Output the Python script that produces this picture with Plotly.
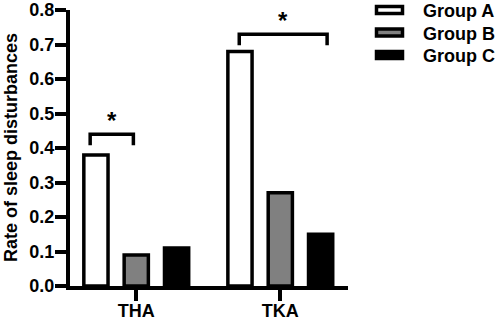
import plotly.graph_objects as go

categories = ["THA", "TKA"]
groups = ["Group A", "Group B", "Group C"]
group_a = [0.38, 0.68]
group_b = [0.09, 0.27]
group_c = [0.11, 0.15]
y_ticks = [0.0, 0.1, 0.2, 0.3, 0.4, 0.5, 0.6, 0.7, 0.8]
y_tick_labels = ["0.0", "0.1", "0.2", "0.3", "0.4", "0.5", "0.6", "0.7", "0.8"]
y_title = "Rate of sleep disturbances"
# significance brackets: (category index, x start offset, x end offset, height)
sig_brackets = [(0, -0.32, -0.02, 0.44), (1, -0.285, 0.325, 0.73)]

FONT = "Liberation Sans, Arial, sans-serif"
fills = ["white", "#808080", "black"]
values = [group_a, group_b, group_c]

fig = go.Figure()
for name, vals, fc in zip(groups, values, fills):
    fig.add_trace(go.Bar(
        x=categories, y=vals, name=name,
        marker=dict(color=fc, line=dict(color="black", width=3.5)),
        showlegend=False, hoverinfo="skip",
    ))

shapes = []
annotations = []
for ci, x0, x1, h in sig_brackets:
    leg = 0.032
    shapes.append(dict(
        type="path", xref="x", yref="y",
        path=f"M {ci + x0},{h - leg} L {ci + x0},{h} L {ci + x1},{h} L {ci + x1},{h - leg}",
        line=dict(color="black", width=3.5),
    ))
    annotations.append(dict(
        x=ci + (x0 + x1) / 2, y=h - 0.005, xref="x", yref="y",
        text="*", showarrow=False, yanchor="bottom",
        font=dict(family=FONT, size=24, color="black", weight="bold"),
    ))

# custom legend (paper coords computed from plot area 70..348 px, 10..286 px)
L, R, T, B = 70, 348, 10, 286
W, H = R - L, B - T
def px(x):
    return (x - L) / W
def py(y):
    return (B - y) / H

for i, (name, fc) in enumerate(zip(groups, fills)):
    cy = 10 + i * 22.5
    shapes.append(dict(
        type="rect", xref="paper", yref="paper",
        x0=px(376.5), x1=px(402.5), y0=py(cy + 3.5), y1=py(cy - 3.5),
        fillcolor=fc, line=dict(color="black", width=3.5),
    ))
    annotations.append(dict(
        x=px(421), y=py(cy + 1), xref="paper", yref="paper",
        text=name, showarrow=False, xanchor="left", yanchor="middle",
        font=dict(family=FONT, size=18, color="black", weight="bold"),
    ))

annotations.append(dict(
    x=px(11), y=0.5, xref="paper", yref="paper",
    text=y_title, textangle=-90, showarrow=False,
    xanchor="center", yanchor="middle",
    font=dict(family=FONT, size=18, color="black", weight="bold"),
))

fig.update_layout(
    width=498, height=321,
    margin=dict(l=L, r=498 - R, t=T, b=321 - B, autoexpand=False),
    paper_bgcolor="white", plot_bgcolor="white",
    barmode="group", bargap=0.16, bargroupgap=0.4,
    shapes=shapes, annotations=annotations,
    font=dict(family=FONT, color="black"),
    hovermode=False,
)
fig.update_xaxes(
    type="category", range=[-0.46, 1.47], automargin=False,
    showline=True, linecolor="black", linewidth=4,
    ticks="outside", ticklen=11, tickwidth=4, tickcolor="black",
    ticklabelstandoff=-6,
    tickfont=dict(family=FONT, size=18, color="black", weight="bold"),
    showgrid=False, zeroline=False,
)
fig.update_yaxes(
    range=[0, 0.8], tickvals=y_ticks, ticktext=y_tick_labels, automargin=False,
    showline=True, linecolor="black", linewidth=4,
    ticks="outside", ticklen=11, tickwidth=4, tickcolor="black",
    ticklabelstandoff=-3,
    tickfont=dict(family=FONT, size=18, color="black", weight="bold"),
    showgrid=False, zeroline=False,
)

fig.write_html(
    "out.html",
    config={"displayModeBar": False},
    post_script="document.body.style.margin='0';document.body.style.padding='0';",
)
